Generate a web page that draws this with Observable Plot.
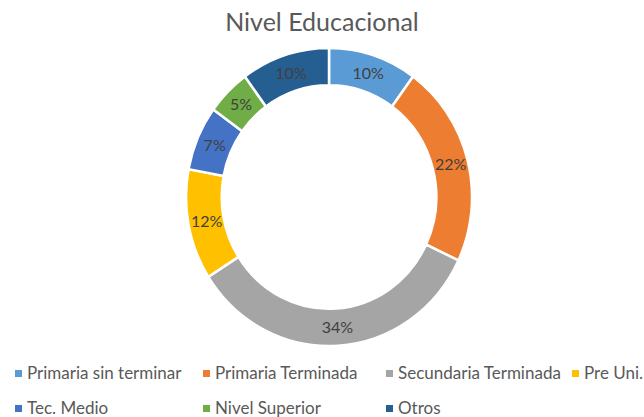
<!DOCTYPE html>
<html><head><meta charset="utf-8">
<script src="https://cdn.jsdelivr.net/npm/d3@7"></script>
<script src="https://cdn.jsdelivr.net/npm/@observablehq/plot@0.6"></script>
<style>
html,body{margin:0;padding:0;background:#fff;width:644px;height:417px;overflow:hidden;font-family:Lato,"Open Sans",sans-serif;}
#title{position:absolute;left:0;top:6px;width:644px;text-align:center;font-size:25px;color:#595959;}
#chart{position:absolute;left:0;top:42px;}
.leg{position:absolute;font-size:17px;color:#595959;white-space:nowrap;line-height:20px;}
.leg i{position:absolute;left:0;top:7px;width:7px;height:7px;}
.leg span{position:absolute;left:12px;top:0;}
</style></head>
<body>
<div id="title">Nivel Educacional</div>
<div id="chart"></div>
<div id="legend"></div>
<script>
const categories = ["Primaria sin terminar","Primaria Terminada","Secundaria Terminada","Pre Uni.","Tec. Medio","Nivel Superior","Otros"];
const values = [10,22,34,12,7,5,10];
const colors = ["#5B9BD5","#ED7D31","#A5A5A5","#FFC000","#4472C4","#70AD47","#255E91"];
const legendX = [15,203,386,572,15,203,386];
const legendY = [363,363,363,363,398,398,398];

const data = categories.map((c,i)=>({category:c, value:values[i]}));
const pie = d3.pie().sort(null).value(d=>d.value)(data);
const inner = 0.75;
const midR = (1+inner)/2;
const labels = pie.map(p=>{const a=(p.startAngle+p.endAngle)/2; return {x:Math.sin(a)*midR, y:Math.cos(a)*midR, text:p.data.value+"%"};});

const ringMark = (index, scales, values_, dimensions, context) => {
  const x = scales.x, y = scales.y;
  const color = scales.color || d3.scaleOrdinal(categories, colors);
  const cx = x(0), cy = y(0);
  const sx = x(1)-x(0), sy = y(-1)-y(0);
  const arc = d3.arc().innerRadius(inner).outerRadius(1);
  const g = d3.create("svg:g").attr("transform",`translate(${cx},${cy}) scale(${sx},${sy})`);
  g.selectAll("path").data(pie).join("path")
    .attr("d", arc)
    .attr("fill", d=>color(d.data.category))
    .attr("stroke","#fff")
    .attr("stroke-width",2.5)
    .attr("vector-effect","non-scaling-stroke");
  return g.node();
};

const plot = Plot.plot({
  width: 644, height: 316,
  marginLeft: 186, marginRight: 172, marginTop: 6, marginBottom: 12,
  x: {domain:[-1,1], axis:null},
  y: {domain:[-1,1], axis:null},
  color: {domain: categories, range: colors},
  style: {fontFamily:"Lato, 'Open Sans', sans-serif", background:"#fff"},
  marks: [
    ringMark,
    Plot.text(labels, {x:"x", y:"y", text:"text", fill:"#404040", fontSize:16})
  ]
});
document.getElementById("chart").appendChild(plot);

const leg = document.getElementById("legend");
categories.forEach((c,i)=>{
  const d = document.createElement("div");
  d.className="leg";
  d.style.left = legendX[i]+"px";
  d.style.top = legendY[i]+"px";
  d.innerHTML = `<i style="background:${colors[i]}"></i><span>${c}</span>`;
  leg.appendChild(d);
});
</script>
</body></html>
